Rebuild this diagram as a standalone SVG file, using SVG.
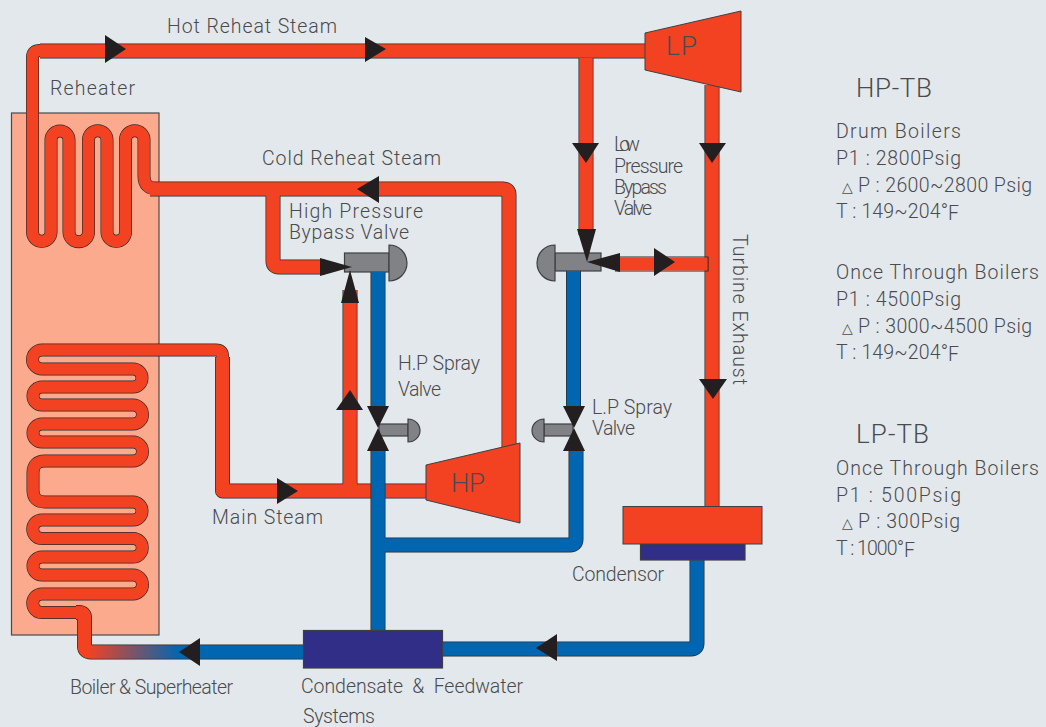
<svg xmlns="http://www.w3.org/2000/svg" width="1046" height="727" viewBox="0 0 1046 727">
<style>
text{font-family:"Roboto","Liberation Sans",sans-serif;font-weight:300;font-size:19.5px;fill:#4a4b4d}
.tri{font-family:"DejaVu Sans",sans-serif;font-size:14px}
.big{font-size:26px}
.title{font-size:26px}
.pipe{fill:none;stroke-linejoin:round}
.ok{stroke:#2b2a2b;stroke-width:15}
.ot{stroke:#2b2a2b;stroke-width:13}
.rk{stroke:#f34222;stroke-width:13.600}
.rt{stroke:#f34222;stroke-width:11.700}
.bk{stroke:#0066b1;stroke-width:13.600}
.ah{fill:#231f20}
.v{fill:#808285;stroke:#3f3f41;stroke-width:1.2}
.red{fill:#f34222;stroke:#3f3f41;stroke-width:1}
.navy{fill:#312e87;stroke:#3f3f41;stroke-width:1.2}
</style>
<defs>
<linearGradient id="g" gradientUnits="userSpaceOnUse" x1="88" y1="0" x2="180" y2="0"><stop offset="0" stop-color="#f34222"/><stop offset="1" stop-color="#0066b1"/></linearGradient>
<path id="hot" d="M645 51H40"/>
<path id="reh" d="M40 50.500Q32.500 50.500 32.500 57V232A9.250 9.250 0 0 0 51 232V140A9 9 0 0 1 69 140V232A9.750 9.750 0 0 0 88.500 232V140A9.250 9.250 0 0 1 107 140V232A9.250 9.250 0 0 0 125.500 232V140A9.250 9.250 0 0 1 144 140V176Q144 189 157 189"/>
<path id="cold" d="M150 189H503Q509 189 509 195V450"/>
<path id="hpb" d="M273 189V261Q273 267 279 267H325"/>
<path id="sup" d="M222.500 358V356Q222.500 350 216 350H42A9.250 9.250 0 0 0 42 369H133A9 9 0 0 1 133 387H42A9 9 0 0 0 42 405H133A9.500 9.500 0 0 1 133 424H42A9 9 0 0 0 42 442H133A9.500 9.500 0 0 1 133 461H45Q33 461 33 473V490Q33 502 45 502H133A9 9 0 0 1 133 520H42A9.250 9.250 0 0 0 42 538.500H133A9.250 9.250 0 0 1 133 557H42A9 9 0 0 0 42 575H133A9.500 9.500 0 0 1 133 594H42A9 9 0 0 0 42 612.500H80"/>
<path id="main1" d="M222.500 357V491H430"/>
<path id="hpup" d="M350 491V290"/>
<path id="lpdn" d="M586 58V235"/>
<path id="exh" d="M712 85V510"/>
<path id="ret" d="M76 612.500H79Q84.500 612.500 84.500 618V646Q84.500 652 91 652H310"/>
<path id="c1" d="M378 272V406M378 451V632"/>
<path id="c2" d="M573.500 271V406"/>
<path id="c3" d="M378 545H570Q576 545 576 539V451"/>
<path id="c4" d="M697 558V643Q697 649 691 649H440"/>
</defs>
<rect width="1046" height="727" fill="#e3e8ec"/>

<g id="boiler"><rect x="11.500" y="113" width="147.500" height="522" fill="#fbaa8e" stroke="#4a4a4a" stroke-width="1.2"/></g>

<g id="hp-bypass-valve">
<rect class="v" x="344.500" y="253" width="44.500" height="19"/>
<path class="v" d="M389 245A18 18 0 0 1 389 281Z"/>
</g>
<g id="lp-bypass-valve">
<rect class="v" x="555" y="253" width="46" height="18"/>
<path class="v" d="M555 245A18 18 0 0 0 555 281Z"/>
</g>
<g id="hp-spray-valve">
<rect class="v" x="379" y="424" width="29" height="12"/>
<path class="v" d="M408 419A12 11.500 0 0 1 408 442Z"/>
<polygon class="ah" points="367,406 389,406 378,428"/>
<polygon class="ah" points="367,451 389,451 378,428"/>
</g>
<g id="lp-spray-valve">
<rect class="v" x="544" y="424" width="29" height="12"/>
<path class="v" d="M544 419A12 11.500 0 0 0 544 442Z"/>
<polygon class="ah" points="563,406 585,406 574,428"/>
<polygon class="ah" points="563,451 585,451 574,428"/>
</g>

<g id="connectors">
<g class="pipe">
<use href="#hot" class="ok"/><use href="#reh" class="ot"/><use href="#cold" class="ok"/><use href="#hpb" class="ok"/>
<use href="#sup" class="ot"/><use href="#main1" class="ok"/><use href="#hpup" class="ok"/><use href="#lpdn" class="ok"/>
<use href="#exh" class="ok"/>
<use href="#ret" stroke="#2b2a2b" stroke-width="15"/>
<use href="#hot" class="rk"/><use href="#reh" class="rt"/><use href="#cold" class="rk"/><use href="#hpb" class="rk"/>
<use href="#sup" class="rt"/><use href="#main1" class="rk"/><use href="#hpup" class="rk"/><use href="#lpdn" class="rk"/>
<use href="#exh" class="rk"/>
<use href="#ret" stroke="url(#g)" stroke-width="13.600"/>
<path d="M615 257H708V271H615" stroke="#2b2a2b" stroke-width="1.200"/>
<path d="M615 264H707.400" stroke="#f34222" stroke-width="13"/>
<use href="#c1" class="ok"/><use href="#c2" class="ok"/><use href="#c3" class="ok"/><use href="#c4" class="ok"/>
<use href="#c1" class="bk"/><use href="#c2" class="bk"/><use href="#c3" class="bk"/><use href="#c4" class="bk"/>
</g>
<polygon class="ah" points="105,35 126,49 105,63"/>
<polygon class="ah" points="365,37 386,49 365,62"/>
<polygon class="ah" points="379,176 357,189 379,203"/>
<polygon class="ah" points="277,478 298,491 277,504"/>
<polygon class="ah" points="336,410 350,390 363,410"/>
<polygon class="ah" points="341,303 350,270 359,303"/>
<polygon class="ah" points="320,258 352,267 320,276"/>
<polygon class="ah" points="572,143 599,143 586,163"/>
<polygon class="ah" points="577,229 596,229 587,262"/>
<polygon class="ah" points="620,253 620,272 587,262"/>
<polygon class="ah" points="654,248 675,262 654,276"/>
<polygon class="ah" points="699,143 726,143 712,163"/>
<polygon class="ah" points="699,379 727,379 713,399"/>
<polygon class="ah" points="557,634 536,648 557,661"/>
<polygon class="ah" points="200,638 179,652 200,666"/>
</g>

<g id="hp-turbine"><polygon class="red" points="426,465 520,443 520,523 426,500"/><text class="big" x="451" y="492" textLength="34">HP</text></g>
<g id="lp-turbine"><polygon class="red" points="645,33 741,11 741,92 645,70"/><text class="big" x="666" y="55" textLength="31">LP</text></g>
<g id="condensor"><rect class="navy" x="640.500" y="544" width="104.500" height="16"/><rect class="red" x="623" y="506.500" width="139" height="37.500"/></g>
<g id="feedwater"><rect class="navy" x="303.500" y="630.500" width="139" height="37.500"/></g>

<g id="labels">
<text x="167" y="33" textLength="170">Hot Reheat Steam</text>
<text x="50" y="95" textLength="85">Reheater</text>
<text x="262" y="165" textLength="179">Cold Reheat Steam</text>
<text x="289" y="218" textLength="134">High Pressure</text>
<text x="289" y="239" textLength="120">Bypass Valve</text>
<text x="614" y="151" textLength="26">Low</text>
<text x="614" y="173" textLength="69">Pressure</text>
<text x="614" y="194" textLength="53">Bypass</text>
<text x="614" y="215" textLength="38">Valve</text>
<text transform="translate(733 234) rotate(90)" textLength="151">Turbine Exhaust</text>
<text x="398" y="370" textLength="82">H.P Spray</text>
<text x="398" y="396" textLength="43">Valve</text>
<text x="592" y="413.500" textLength="80">L.P Spray</text>
<text x="592" y="434.500" textLength="43">Valve</text>
<text x="212" y="524" textLength="111">Main Steam</text>
<text x="572" y="581" textLength="92">Condensor</text>
<text x="70" y="694" textLength="163">Boiler &amp; Superheater</text>
<text x="301" y="693" textLength="222" xml:space="preserve">Condensate  &amp;  Feedwater</text>
<text x="303" y="723" textLength="72">Systems</text>
<text class="title" x="856" y="97" textLength="76">HP-TB</text>
<text x="836" y="138" textLength="125">Drum Boilers</text>
<text x="836" y="165" textLength="125">P1 : 2800Psig</text>
<text x="842" y="192" class="tri">△</text><text x="858" y="192" textLength="174">P : 2600~2800 Psig</text>
<text x="836" y="218" textLength="112">T : 149~204°</text><text x="948" y="220">F</text>
<text x="836" y="279" textLength="203">Once Through Boilers</text>
<text x="836" y="306" textLength="125">P1 : 4500Psig</text>
<text x="842" y="333" class="tri">△</text><text x="858" y="333" textLength="174">P : 3000~4500 Psig</text>
<text x="836" y="359" textLength="112">T : 149~204°</text><text x="948" y="361">F</text>
<text class="title" x="856" y="443" textLength="73">LP-TB</text>
<text x="836" y="475" textLength="203">Once Through Boilers</text>
<text x="836" y="502" textLength="125">P1 : 500Psig</text>
<text x="842" y="528" class="tri">△</text><text x="858" y="528" textLength="102">P : 300Psig</text>
<text x="836" y="555" textLength="68">T : 1000°</text><text x="904" y="557">F</text>
</g>
</svg>
